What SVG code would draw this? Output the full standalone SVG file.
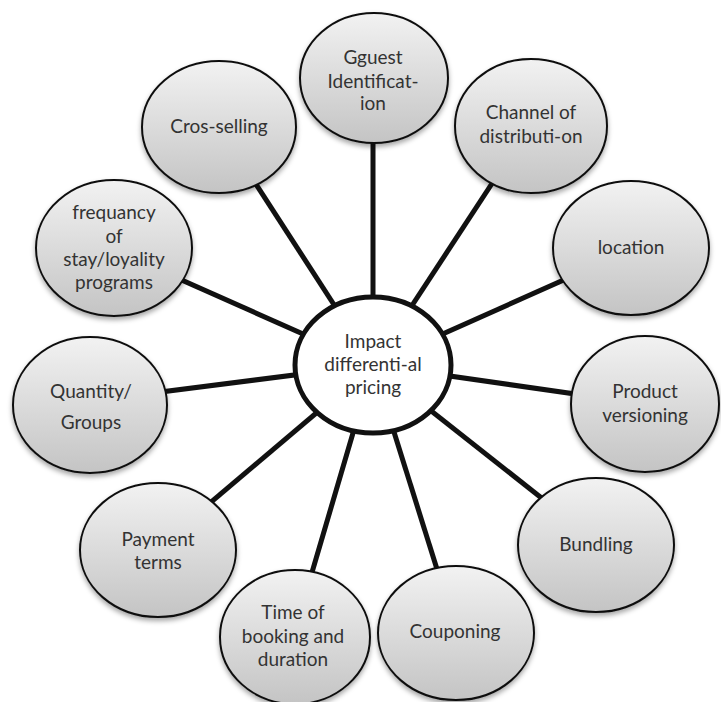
<svg xmlns="http://www.w3.org/2000/svg" width="721" height="702" viewBox="0 0 721 702">
<defs>
<linearGradient id="g" x1="0" y1="0" x2="0" y2="1">
<stop offset="0" stop-color="#f2f2f2"/>
<stop offset="1" stop-color="#c4c4c4"/>
</linearGradient>
<filter id="sh" x="-20%" y="-20%" width="140%" height="150%">
<feDropShadow dx="0" dy="3" stdDeviation="2.5" flood-color="#000" flood-opacity="0.35"/>
</filter>
</defs>
<style>
.b{fill:url(#g);stroke:#111;stroke-width:2;filter:url(#sh)}
.c{fill:#fff;stroke:#111;stroke-width:5}
.l{stroke:#111;stroke-width:5;fill:none}
text{font-family:Lato,"Open Sans","Liberation Sans",sans-serif;font-size:19px;fill:#333;text-anchor:middle}
</style>
<rect width="721" height="702" fill="#fff"/>
<g id="connectors">
<line class="l" x1="373" y1="365" x2="373" y2="78"/>
<line class="l" x1="373" y1="365" x2="531" y2="124"/>
<line class="l" x1="373" y1="365" x2="219" y2="127"/>
<line class="l" x1="373" y1="365" x2="114" y2="250"/>
<line class="l" x1="373" y1="365" x2="631" y2="250"/>
<line class="l" x1="373" y1="365" x2="645" y2="404"/>
<line class="l" x1="373" y1="365" x2="596" y2="541"/>
<line class="l" x1="373" y1="365" x2="457" y2="633"/>
<line class="l" x1="373" y1="365" x2="293" y2="637"/>
<line class="l" x1="373" y1="365" x2="158" y2="547"/>
<line class="l" x1="373" y1="365" x2="90" y2="401"/>
</g>
<g id="guest">
<ellipse class="b" cx="374" cy="78" rx="74" ry="65"/>
<text x="373" y="64">Gguest</text>
<text x="373" y="88">Identificat-</text>
<text x="373" y="110">ion</text>
</g>
<g id="channel">
<ellipse class="b" cx="531" cy="126" rx="76" ry="67"/>
<text x="531" y="119">Channel of</text>
<text x="531" y="143">distributi-on</text>
</g>
<g id="crossselling">
<ellipse class="b" cx="219" cy="127" rx="77" ry="66"/>
<text x="219" y="133">Cros-selling</text>
</g>
<g id="frequency">
<ellipse class="b" cx="114" cy="248" rx="78" ry="68"/>
<text x="114" y="219">frequancy</text>
<text x="114" y="243">of</text>
<text x="114" y="266">stay/loyality</text>
<text x="114" y="289">programs</text>
</g>
<g id="location">
<ellipse class="b" cx="631" cy="248" rx="78" ry="67"/>
<text x="631" y="254">location</text>
</g>
<g id="product">
<ellipse class="b" cx="645" cy="404" rx="74" ry="68"/>
<text x="645" y="398">Product</text>
<text x="645" y="422">versioning</text>
</g>
<g id="bundling">
<ellipse class="b" cx="596" cy="545" rx="78" ry="67"/>
<text x="596" y="551">Bundling</text>
</g>
<g id="couponing">
<ellipse class="b" cx="456" cy="633" rx="78" ry="67"/>
<text x="455" y="638">Couponing</text>
</g>
<g id="time">
<ellipse class="b" cx="295" cy="637" rx="75" ry="67"/>
<text x="293" y="619">Time of</text>
<text x="293" y="643">booking and</text>
<text x="293" y="666">duration</text>
</g>
<g id="payment">
<ellipse class="b" cx="158" cy="550" rx="78" ry="67"/>
<text x="158" y="546">Payment</text>
<text x="158" y="569">terms</text>
</g>
<g id="quantity">
<ellipse class="b" cx="90" cy="405" rx="77" ry="68"/>
<text x="91" y="398">Quantity/</text>
<text x="91" y="429">Groups</text>
</g>
<g id="center">
<ellipse class="c" cx="373" cy="365" rx="78" ry="68"/>
<text x="373" y="348">Impact</text>
<text x="373" y="371">differenti-al</text>
<text x="373" y="394">pricing</text>
</g>
</svg>
